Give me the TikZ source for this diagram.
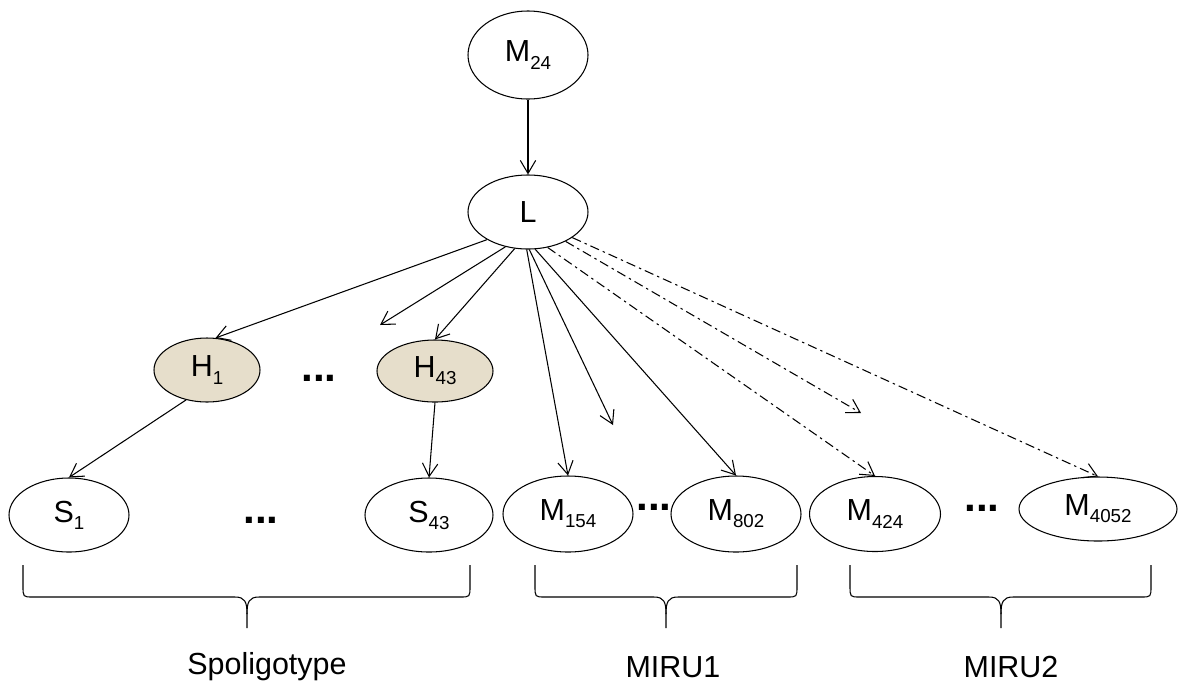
\documentclass[tikz,border=0pt]{standalone}
\usepackage{fontspec}
\setmainfont{Liberation Sans}
\usepackage{xcolor}
\usetikzlibrary{shapes.geometric,arrows.meta}
\definecolor{hidden}{RGB}{230,222,203}
\newcommand{\idx}[1]{\raisebox{-6pt}{\fontsize{16}{18}\selectfont #1}}

\begin{document}
\begin{tikzpicture}[x=0.03cm,y=-0.03cm,line width=0.9pt,
  >={Straight Barb[length=3.9mm,width=4.6mm]},
  font=\fontsize{26}{30}\selectfont,
  var/.style={ellipse,draw,inner sep=0pt},
  hid/.style={var,fill=hidden},
  dots/.style={font=\fontsize{36}{36}\selectfont\bfseries,inner sep=0pt},
  dashdot/.style={dash pattern=on 8pt off 3.5pt on 2pt off 3.5pt}]
\useasboundingbox (0,0) rectangle (1179,686);
% root and latent
\node[var,minimum width=3.6cm,minimum height=2.64cm] (m24) at (528,55) {M\idx{24}};
\node[var,minimum width=3.6cm,minimum height=2.22cm] (l) at (528,212) {L};
% hidden layer
\node[hid,minimum width=3.18cm,minimum height=1.92cm] (h1) at (207,370) {H\idx{1}};
\node[hid,minimum width=3.48cm,minimum height=1.86cm] (h43) at (435,371) {H\idx{43}};
\node[dots] (hdots) at (319,378) {...};
% observed
\node[var,minimum width=3.6cm,minimum height=2.22cm] (s1) at (69,515) {S\idx{1}};
\node[var,minimum width=3.84cm,minimum height=2.22cm] (s43) at (429,515) {S\idx{43}};
\node[dots] (sdots) at (261,520) {...};
\node[var,minimum width=3.9cm,minimum height=2.28cm] (m154) at (568,514) {M\idx{154}};
\node[var,minimum width=3.9cm,minimum height=2.28cm] (m802) at (736,514) {M\idx{802}};
\node[dots] (mdots1) at (654,507) {...};
\node[var,minimum width=3.93cm,minimum height=2.25cm] (m424) at (875,514) {M\idx{424}};
\node[var,minimum width=4.74cm,minimum height=1.92cm] (m4052) at (1098,509) {M\idx{4052}};
\node[dots] (mdots2) at (982,508) {...};
% free arrow ends
\coordinate (t1) at (380,325);
\coordinate (t2) at (613,425);
\coordinate (t3) at (861,413);
% edges
\draw[->] (m24) -- (l);
\draw[->] (l.214) -- (h1.75);
\draw[->] (l.237) -- (t1);
\draw[->] (l.250) -- (h43.north);
\draw[->] (l.268) -- (m154.north);
\draw[->] (l.272) -- (t2);
\draw[->] (l.281) -- (m802.north);
\draw[->,dashdot] (l.299) -- (m424.north);
\draw[->,dashdot] (l.322) -- (t3);
\draw[->,dashdot] (l.330) -- (m4052.north);
\draw[->] (h1.235) -- (s1.north);
\draw[->] (h43.south) -- (s43.north);
% braces
\foreach \a/\b/\m in {23/470/247,535/797/666,850/1151/1001}{
  \draw (\a,565) -- (\a,586) .. controls (\a,597) .. (\a+10,597) -- (\m-12,597)
    .. controls (\m-2,597) and (\m,602) .. (\m,614) -- (\m,628);
  \draw (\b,565) -- (\b,586) .. controls (\b,597) .. (\b-10,597) -- (\m+12,597)
    .. controls (\m+2,597) and (\m,602) .. (\m,614);
}
% group labels
\node (spol) at (267,667) {Spoligotype};
\node (miru1) at (673,667) {MIRU1};
\node (miru2) at (1011,667) {MIRU2};
\end{tikzpicture}
\end{document}
